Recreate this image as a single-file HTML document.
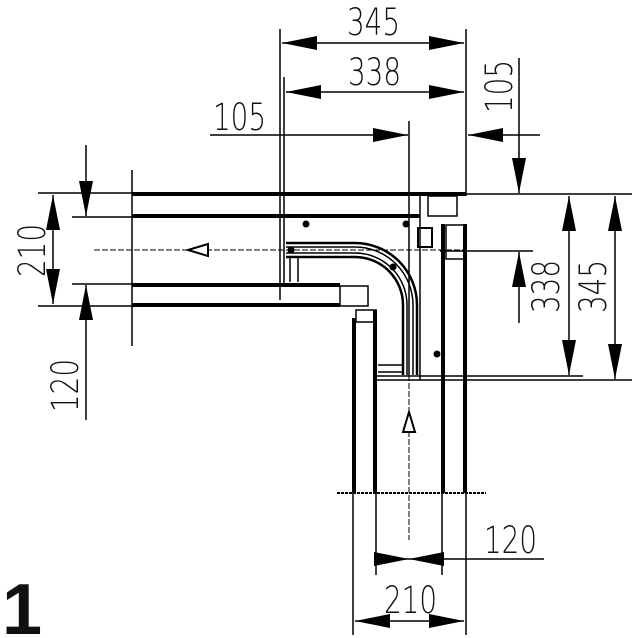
<!DOCTYPE html>
<html><head><style>body{margin:0;background:#fff}svg{display:block}text{font-family:"DejaVu Sans","Liberation Sans",sans-serif;font-size:37px;fill:#111;font-weight:200}</style></head><body>
<svg width="638" height="638" viewBox="0 0 638 638" xmlns="http://www.w3.org/2000/svg">
<defs>
<marker id="a" viewBox="0 0 10 4" refX="10" refY="2" markerWidth="35" markerHeight="14" markerUnits="userSpaceOnUse" orient="auto-start-reverse"><path d="M0,0L10,2L0,4z" fill="#000"/></marker>
</defs>
<g stroke="#000" fill="none" stroke-width="1.5">
<line x1="280" y1="29" x2="280" y2="300"/>
<line x1="466" y1="29" x2="466" y2="196"/>
<line x1="284" y1="77" x2="284" y2="285"/>
<line x1="282" y1="43" x2="464" y2="43" marker-start="url(#a)" marker-end="url(#a)"/>
<line x1="286" y1="92" x2="464" y2="92" marker-start="url(#a)" marker-end="url(#a)"/>
<line x1="210" y1="135" x2="408" y2="135" marker-end="url(#a)"/>
<line x1="540" y1="135" x2="468" y2="135" marker-end="url(#a)"/>
<line x1="409" y1="121" x2="409" y2="375"/>
<line x1="519" y1="58" x2="519" y2="193" marker-end="url(#a)"/>
<line x1="519" y1="323" x2="519" y2="252" marker-end="url(#a)"/>
<line x1="466" y1="194" x2="632" y2="194"/>
<line x1="440" y1="251" x2="533" y2="251"/>
<line x1="569" y1="196" x2="569" y2="375" marker-start="url(#a)" marker-end="url(#a)"/>
<line x1="615" y1="196" x2="615" y2="379" marker-start="url(#a)" marker-end="url(#a)"/>
<line x1="376" y1="376" x2="583" y2="376"/>
<line x1="376" y1="380" x2="632" y2="380"/>
<line x1="38" y1="193" x2="132" y2="193"/>
<line x1="38" y1="306" x2="132" y2="306"/>
<line x1="72" y1="217" x2="132" y2="217"/>
<line x1="72" y1="284" x2="132" y2="284"/>
<line x1="53" y1="195" x2="53" y2="304" marker-start="url(#a)" marker-end="url(#a)"/>
<line x1="86" y1="145" x2="86" y2="216" marker-end="url(#a)"/>
<line x1="86" y1="420" x2="86" y2="285" marker-end="url(#a)"/>
<line x1="132" y1="170" x2="132" y2="346"/>
<line x1="353" y1="493" x2="353" y2="635"/>
<line x1="466" y1="493" x2="466" y2="635"/>
<line x1="376" y1="493" x2="376" y2="575"/>
<line x1="442" y1="493" x2="442" y2="575"/>
<line x1="376" y1="559" x2="409" y2="559" marker-end="url(#a)"/>
<line x1="442" y1="559" x2="409" y2="559" marker-end="url(#a)"/>
<line x1="442" y1="559" x2="544" y2="559"/>
<line x1="355" y1="621" x2="464" y2="621" marker-start="url(#a)" marker-end="url(#a)"/>
<line x1="94" y1="250" x2="466" y2="250" stroke-dasharray="6,2" stroke-width="1"/>
<line x1="409" y1="375" x2="409" y2="540" stroke-dasharray="6,2" stroke-width="1"/>
<line x1="337" y1="493" x2="486" y2="493" stroke-dasharray="3,1" stroke-width="2"/>
<path d="M188,250L208,244L208,256Z" fill="#fff" stroke-width="2"/>
<path d="M409,412L403,432L415,432Z" fill="#fff" stroke-width="2"/>
<g stroke-width="4">
<line x1="132" y1="194" x2="466" y2="194"/>
<line x1="132" y1="216" x2="420" y2="216"/>
<line x1="132" y1="285" x2="340" y2="285"/>
<line x1="132" y1="305" x2="340" y2="305"/>
<line x1="443" y1="224" x2="443" y2="493"/>
<line x1="465" y1="224" x2="465" y2="493"/>
<line x1="354" y1="318" x2="354" y2="493"/>
<line x1="375" y1="310" x2="375" y2="493"/>
</g>
<rect x="428" y="196" width="29" height="20"/>
<rect x="340" y="286" width="28" height="20"/>
<rect x="356" y="310" width="20" height="12"/>
<rect x="446" y="225" width="18" height="34"/>
<rect x="418" y="228" width="14" height="19" stroke-width="2"/>
<line x1="420" y1="196" x2="420" y2="380"/>
<line x1="378" y1="365" x2="403" y2="365"/>
<line x1="378" y1="372" x2="403" y2="372"/>
<line x1="290" y1="256" x2="290" y2="282"/>
<line x1="298" y1="256" x2="298" y2="282"/>
<path d="M286,243H355A62,62 0 0 1 417,305V375" stroke-width="2.5"/>
<path d="M286,247H355A58,58 0 0 1 413,305V375"/>
<path d="M286,253H355A52,52 0 0 1 407,305V375"/>
<path d="M286,257H355A48,48 0 0 1 403,305V375" stroke-width="2.5"/>
</g>
<g fill="#000">
<circle cx="306" cy="224" r="3.5"/><circle cx="406" cy="224" r="3.5"/>
<circle cx="393" cy="267" r="3.5"/><circle cx="437" cy="354" r="3.5"/>
<circle cx="291" cy="250" r="3.5"/>
</g>
<text x="347" y="35" textLength="53" lengthAdjust="spacingAndGlyphs">345</text>
<text x="348" y="85" textLength="53" lengthAdjust="spacingAndGlyphs">338</text>
<text x="213" y="130" textLength="53" lengthAdjust="spacingAndGlyphs">105</text>
<text transform="translate(512,113) rotate(-90)" textLength="53" lengthAdjust="spacingAndGlyphs">105</text>
<text transform="translate(559,313) rotate(-90)" textLength="53" lengthAdjust="spacingAndGlyphs">338</text>
<text transform="translate(606,313) rotate(-90)" textLength="53" lengthAdjust="spacingAndGlyphs">345</text>
<text transform="translate(45,277) rotate(-90)" textLength="53" lengthAdjust="spacingAndGlyphs">210</text>
<text transform="translate(78,412) rotate(-90)" textLength="53" lengthAdjust="spacingAndGlyphs">120</text>
<text x="484" y="553" textLength="53" lengthAdjust="spacingAndGlyphs">120</text>
<text x="384" y="613" textLength="53" lengthAdjust="spacingAndGlyphs">210</text>
<text x="2" y="634" style="font-size:72px;font-weight:bold;font-family:'Liberation Sans',sans-serif">1</text>
</svg>
</body></html>
